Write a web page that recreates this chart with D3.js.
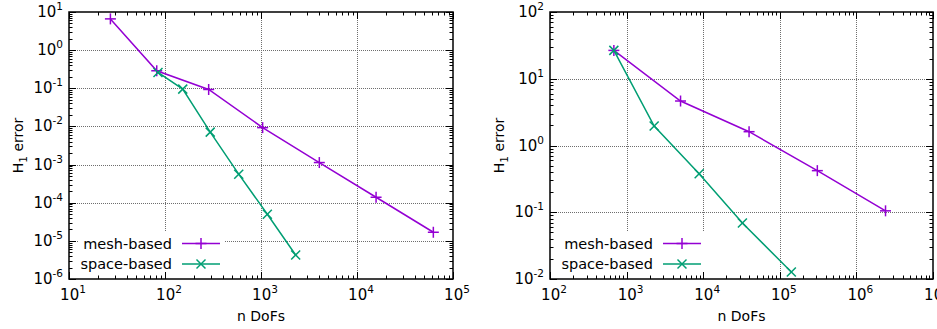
<!DOCTYPE html>
<html>
<head>
<meta charset="utf-8">
<script src="https://cdn.jsdelivr.net/npm/d3@7"></script>
<style>
  body { margin: 0; background: #fff; }
  svg text { font-family: "DejaVu Sans", Verdana, sans-serif; }
</style>
</head>
<body>
<div id="chart"></div>
<script>
// ─── Data ─────────────────────────────────────────────────────
const leftMeshDofs   = [27, 82, 285, 1040, 4050, 15800, 62400];
const leftMeshErr    = [6.6, 0.288, 0.093, 0.0093, 0.00113, 1.39e-4, 1.68e-5];
const leftSpaceDofs  = [84.5, 153, 296, 586, 1164, 2296];
const leftSpaceErr   = [0.26, 0.095, 0.0071, 5.6e-4, 5.0e-5, 4.27e-6];

const rightMeshDofs  = [682, 5060, 39700, 309000, 2.4e6];
const rightMeshErr   = [26.6, 4.64, 1.61, 0.42, 0.105];
const rightSpaceDofs = [682, 2290, 8850, 32500, 141600];
const rightSpaceErr  = [26.6, 1.96, 0.378, 0.069, 0.0127];

const seriesNames = ["mesh-based", "space-based"];
const leftXDomain  = [1e1, 1e5], leftYDomain  = [1e-6, 1e1];
const rightXDomain = [1e2, 1e7], rightYDomain = [1e-2, 1e2];

// ─── Setup ────────────────────────────────────────────────────
const W = 937, H = 329;
const svg = d3.select("#chart").append("svg")
    .attr("width", W).attr("height", H);

const colors = ["#9400d3", "#009e73"];

function expLabel(sel, e) {
    sel.append("tspan").text("10");
    sel.append("tspan").attr("dy", -7).attr("font-size", 10.5).text(e);
}

function drawPanel(p) {
    const x = d3.scaleLog().domain(p.xDomain).range([p.x0, p.x1]);
    const y = d3.scaleLog().domain(p.yDomain).range([p.y1, p.y0]);
    const g = svg.append("g");

    const lo = Math.log10(p.xDomain[0]), hi = Math.log10(p.xDomain[1]);
    const ylo = Math.log10(p.yDomain[0]), yhi = Math.log10(p.yDomain[1]);
    const xMajor = d3.range(lo, hi + 1).map(e => Math.pow(10, e));
    const yMajor = d3.range(ylo, yhi + 1).map(e => Math.pow(10, e));
    const minor = (a, b) => {
        const out = [];
        for (let e = a; e < b; e++) for (let k = 2; k <= 9; k++) out.push(k * Math.pow(10, e));
        return out;
    };
    const xMinor = minor(lo, hi), yMinor = minor(ylo, yhi);

    // grid
    const grid = g.append("g")
        .attr("stroke", "#6e6e6e").attr("stroke-width", 1)
        .attr("stroke-dasharray", "1,1").attr("fill", "none");
    grid.selectAll(".gx").data(xMajor.slice(1, -1)).join("line")
        .attr("x1", d => Math.round(x(d)) + 0.5).attr("x2", d => Math.round(x(d)) + 0.5)
        .attr("y1", p.y0).attr("y2", p.y1);
    grid.selectAll(".gy").data(yMajor.slice(1, -1)).join("line")
        .attr("y1", d => Math.round(y(d)) + 0.5).attr("y2", d => Math.round(y(d)) + 0.5)
        .attr("x1", p.x0).attr("x2", p.x1);

    // opaque key box
    g.append("rect")
        .attr("x", p.x0 + 10).attr("y", p.y1 - 48)
        .attr("width", 146).attr("height", 48)
        .attr("fill", "#fff");

    // ticks (all four sides, inward)
    const ticks = g.append("g").attr("stroke", "#000").attr("stroke-width", 1);
    const tickX = (vals, len) => vals.forEach(v => {
        const xx = Math.round(x(v)) + 0.5;
        ticks.append("line").attr("x1", xx).attr("x2", xx).attr("y1", p.y1).attr("y2", p.y1 - len);
        ticks.append("line").attr("x1", xx).attr("x2", xx).attr("y1", p.y0).attr("y2", p.y0 + len);
    });
    const tickY = (vals, len) => vals.forEach(v => {
        const yy = Math.round(y(v)) + 0.5;
        ticks.append("line").attr("y1", yy).attr("y2", yy).attr("x1", p.x0).attr("x2", p.x0 + len);
        ticks.append("line").attr("y1", yy).attr("y2", yy).attr("x1", p.x1).attr("x2", p.x1 - len);
    });
    tickX(xMajor, 7); tickX(xMinor, 3.5);
    tickY(yMajor, 7); tickY(yMinor, 3.5);

    // frame
    g.append("rect")
        .attr("x", p.x0).attr("y", p.y0)
        .attr("width", p.x1 - p.x0).attr("height", p.y1 - p.y0)
        .attr("fill", "none").attr("stroke", "#000").attr("stroke-width", 1.5);

    // tick labels
    g.selectAll(".xl").data(xMajor).join("text")
        .attr("x", d => x(d) + 4).attr("y", p.y1 + 21)
        .attr("text-anchor", "middle").attr("font-size", 15)
        .each(function(d) { expLabel(d3.select(this), Math.round(Math.log10(d))); });
    g.selectAll(".yl").data(yMajor).join("text")
        .attr("x", p.x0 - 6).attr("y", d => y(d) + 5)
        .attr("text-anchor", "end").attr("font-size", 15)
        .each(function(d) { expLabel(d3.select(this), Math.round(Math.log10(d))); });

    // axis titles
    g.append("text")
        .attr("x", (p.x0 + p.x1) / 2).attr("y", p.y1 + 42)
        .attr("text-anchor", "middle").attr("font-size", 14)
        .text("n DoFs");
    const yt = g.append("text")
        .attr("transform", `translate(${p.yLabelX},${(p.y0 + p.y1) / 2}) rotate(-90)`)
        .attr("text-anchor", "middle").attr("font-size", 14);
    yt.append("tspan").text("H");
    yt.append("tspan").attr("dy", 4).attr("font-size", 10.5).text("1");
    yt.append("tspan").attr("dy", -4).text(" error");

    // series
    const line = d3.line().x(d => x(d[0])).y(d => y(d[1]));
    p.series.forEach((s, i) => {
        const pts = d3.zip(s.dofs, s.err);
        g.append("path").datum(pts)
            .attr("d", line).attr("fill", "none")
            .attr("stroke", colors[i]).attr("stroke-width", 1.5);
        const mk = g.append("g").attr("stroke", colors[i]).attr("stroke-width", 1.5);
        pts.forEach(d => marker(mk, x(d[0]), y(d[1]), i));
    });

    // legend
    const ly = [p.y1 - 35.5, p.y1 - 15];
    seriesNames.forEach((name, i) => {
        g.append("text")
            .attr("x", p.x0 + 103).attr("y", ly[i] + 5)
            .attr("text-anchor", "end").attr("font-size", 14.5)
            .text(name);
        g.append("line")
            .attr("x1", p.x0 + 113).attr("x2", p.x0 + 151)
            .attr("y1", ly[i]).attr("y2", ly[i])
            .attr("stroke", colors[i]).attr("stroke-width", 1.5);
        marker(g.append("g").attr("stroke", colors[i]).attr("stroke-width", 1.5),
            p.x0 + 132, ly[i], i);
    });
}

function marker(sel, cx, cy, type) {
    const r = type === 0 ? 5.5 : 4.5;
    if (type === 0) {
        sel.append("line").attr("x1", cx - r).attr("x2", cx + r).attr("y1", cy).attr("y2", cy);
        sel.append("line").attr("x1", cx).attr("x2", cx).attr("y1", cy - r).attr("y2", cy + r);
    } else {
        sel.append("line").attr("x1", cx - r).attr("x2", cx + r).attr("y1", cy - r).attr("y2", cy + r);
        sel.append("line").attr("x1", cx - r).attr("x2", cx + r).attr("y1", cy + r).attr("y2", cy - r);
    }
}

drawPanel({
    x0: 69, x1: 453, y0: 12, y1: 279, yLabelX: 23,
    xDomain: leftXDomain, yDomain: leftYDomain,
    series: [{ dofs: leftMeshDofs, err: leftMeshErr }, { dofs: leftSpaceDofs, err: leftSpaceErr }]
});
drawPanel({
    x0: 550, x1: 933, y0: 12, y1: 279, yLabelX: 504,
    xDomain: rightXDomain, yDomain: rightYDomain,
    series: [{ dofs: rightMeshDofs, err: rightMeshErr }, { dofs: rightSpaceDofs, err: rightSpaceErr }]
});
</script>
</body>
</html>
